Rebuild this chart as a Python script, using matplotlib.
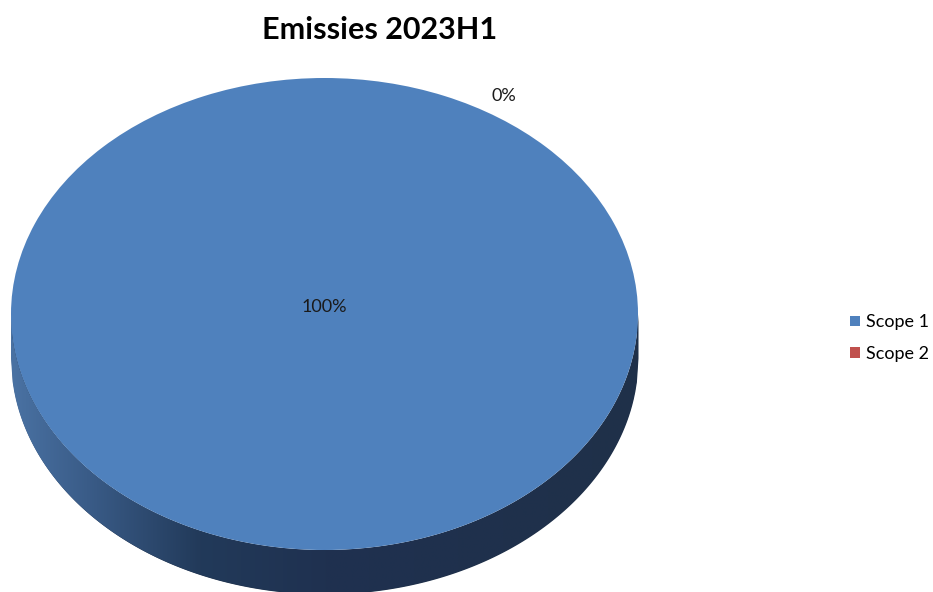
import matplotlib
matplotlib.use("Agg")
import matplotlib.pyplot as plt
import numpy as np
from matplotlib.colors import LinearSegmentedColormap

# Chart data
categories = ["Scope 1", "Scope 2"]
values = [100.0, 0.0]
pct_labels = ["100%", "0%"]
colors = ["#4f81bd", "#c0504d"]
title = "Emissies 2023H1"

plt.rcParams["font.family"] = ["Lato", "DejaVu Sans"]

W, H = 933, 592
fig = plt.figure(figsize=(W / 100, H / 100), dpi=100)

# top ellipse spans x 11..638 px and y 78..550 px (from top)
left_px, right_px, top_px, bot_px = 11, 638, 78, 550
ry_px = (bot_px - top_px) / 2
ax_top = 1 - top_px / H
ax = fig.add_axes([left_px / W, 0.0, (right_px - left_px) / W, ax_top])
y_min = 1 - (ax_top * H) / ry_px
depth = 44 / ry_px

# side wall of the 3D pie
x = np.linspace(-1, 1, 400)
upper = -np.sqrt(np.clip(1 - x ** 2, 0, None))
side = ax.fill_between(x, upper - depth, upper, color="#1f3049", lw=0, zorder=1)
side_cmap = LinearSegmentedColormap.from_list(
    "side", [(0.0, "#4a72a3"), (0.12, "#3a5c88"), (0.3, "#223a5a"), (0.5, "#1f3150"), (1.0, "#1f3049")]
)
grad = np.linspace(0, 1, 256).reshape(1, -1)
im = ax.imshow(grad, cmap=side_cmap, extent=[-1, 1, -1 - depth - 0.05, 0.05],
               aspect="auto", zorder=2, interpolation="bilinear")
im.set_clip_path(side.get_paths()[0], transform=ax.transData)

# top face
wedges, _ = ax.pie(values, colors=colors, startangle=58.7, counterclock=False,
                   radius=1, center=(0, 0), wedgeprops=dict(linewidth=0))
for w in wedges:
    w.set_zorder(3)
    # pie works in float32, so a full 360 degree wedge can collapse; make it exact
    if abs((float(w.theta2) - float(w.theta1)) - 360) < 1e-3:
        t1 = float(w.theta1)
        w.set_theta1(t1)
        w.set_theta2(t1 + 360.0)

# percentage labels
for w, lab, v in zip(wedges, pct_labels, values):
    if v >= 50:
        ax.text(0, 0.03, lab, ha="center", va="center", fontsize=13, color="#1a1a1a", zorder=5)
    else:
        ang = np.deg2rad((float(w.theta1) + float(w.theta2)) / 2)
        ax.text(1.1 * np.cos(ang), 1.08 * np.sin(ang), lab, ha="center", va="center",
                fontsize=13, color="#1a1a1a", zorder=5)

ax.set_aspect("auto")
ax.set_xlim(-1, 1)
ax.set_ylim(y_min, 1)
ax.set_axis_off()

fig.text(380 / W, 1 - 30 / H, title, ha="center", va="center", fontsize=22, fontweight="bold")

fig.legend(wedges, categories, loc="center left", bbox_to_anchor=(850 / W, 1 - 338 / H),
           frameon=False, fontsize=13, handlelength=0.55, handleheight=0.55,
           handletextpad=0.35, labelspacing=0.85, borderpad=0, borderaxespad=0)

fig.savefig("out.png", dpi=100, facecolor="white")
